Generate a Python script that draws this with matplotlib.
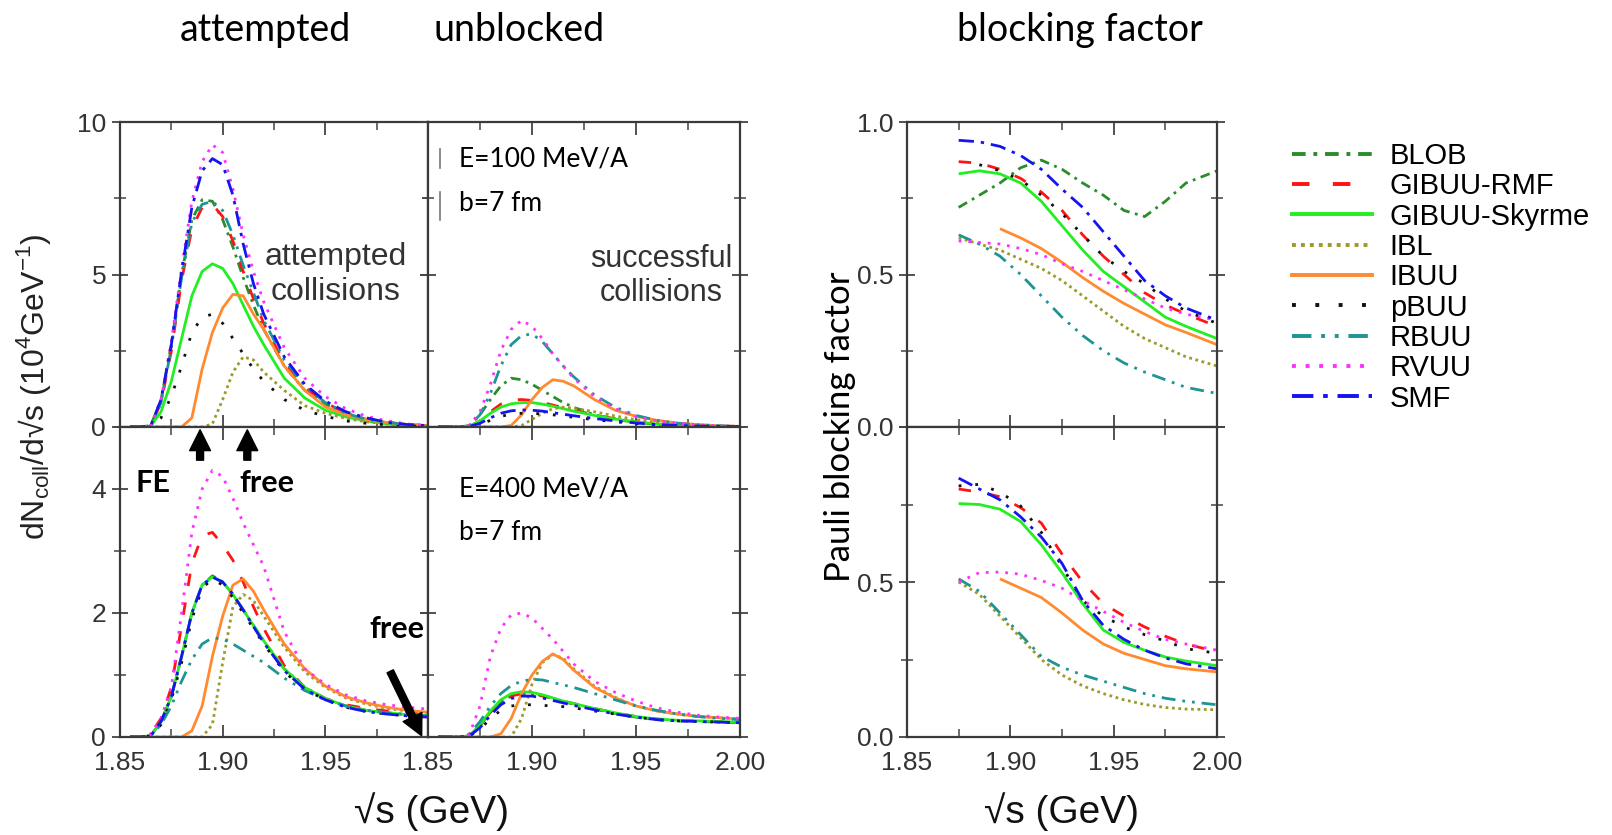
import numpy as np
import matplotlib
matplotlib.use("Agg")
import matplotlib.pyplot as plt
from matplotlib.lines import Line2D
from matplotlib.ticker import MultipleLocator

W, H = 1612, 835
nan = np.nan

models = ["BLOB", "GIBUU-RMF", "GIBUU-Skyrme", "IBL", "IBUU",
          "pBUU", "RBUU", "RVUU", "SMF"]

# sqrt(s) grid of the collision spectra (GeV)
sqrt_s = [1.855, 1.86, 1.865, 1.87, 1.875, 1.88, 1.885, 1.89, 1.895, 1.90, 1.905,
          1.91, 1.915, 1.92, 1.93, 1.94, 1.95, 1.96, 1.97, 1.98, 1.99, 2.00]

# dN/dsqrt(s) (10^4 GeV^-1), E=100 MeV/A, attempted collisions
att100 = {
    "BLOB":         [0, 0, 0.05, 0.9, 2.7, 5.0, 6.8, 7.45, 7.4, 6.8, 5.9, 4.9, 4.0, 3.2, 2.0, 1.2, 0.75, 0.45, 0.25, 0.15, 0.08, 0.04],
    "GIBUU-RMF":    [0, 0, 0.05, 0.8, 2.5, 4.8, 6.5, 7.2, 7.3, 6.9, 6.1, 5.1, 4.2, 3.4, 2.1, 1.3, 0.8, 0.45, 0.25, 0.15, 0.08, 0.04],
    "GIBUU-Skyrme": [0, 0, 0.03, 0.5, 1.5, 2.9, 4.3, 5.1, 5.35, 5.2, 4.7, 4.0, 3.3, 2.7, 1.6, 0.95, 0.55, 0.33, 0.2, 0.1, 0.05, 0.03],
    "IBL":          [0, 0, 0, 0, 0, 0, 0, 0, 0.1, 0.9, 1.8, 2.3, 2.2, 1.8, 1.2, 0.7, 0.45, 0.28, 0.17, 0.1, 0.05, 0.03],
    "IBUU":         [0, 0, 0, 0, 0, 0, 0.3, 1.9, 3.1, 3.9, 4.35, 4.3, 3.7, 3.2, 2.0, 1.2, 0.66, 0.4, 0.25, 0.15, 0.08, 0.05],
    "pBUU":         [0, 0, 0, 0.3, 1.0, 2.0, 3.1, 3.6, 3.7, 3.4, 2.9, 2.4, 1.9, 1.5, 0.9, 0.55, 0.35, 0.2, 0.12, 0.07, 0.04, 0.02],
    "RBUU":         [0, 0, 0.05, 0.8, 2.6, 4.9, 6.7, 7.3, 7.4, 7.1, 6.3, 5.3, 4.4, 3.5, 2.2, 1.35, 0.8, 0.45, 0.25, 0.15, 0.08, 0.04],
    "RVUU":         [0, 0, 0.05, 0.9, 2.8, 5.2, 7.4, 8.7, 9.25, 9.0, 7.8, 6.3, 5.1, 4.1, 2.6, 1.6, 1.0, 0.6, 0.35, 0.2, 0.1, 0.05],
    "SMF":          [0, 0, 0.05, 0.9, 2.7, 5.1, 7.2, 8.4, 8.8, 8.6, 7.6, 6.0, 4.7, 3.7, 2.3, 1.4, 0.85, 0.5, 0.3, 0.15, 0.08, 0.04],
}

# E=100 MeV/A, successful (unblocked) collisions
unb100 = {
    "BLOB":         [0, 0, 0, 0.05, 0.4, 0.9, 1.35, 1.6, 1.55, 1.4, 1.2, 1.0, 0.8, 0.65, 0.4, 0.25, 0.15, 0.09, 0.05, 0.03, 0.02, 0.01],
    "GIBUU-RMF":    [0, 0, 0, 0.02, 0.2, 0.5, 0.75, 0.88, 0.9, 0.87, 0.8, 0.72, 0.63, 0.55, 0.4, 0.27, 0.17, 0.1, 0.06, 0.04, 0.02, 0.01],
    "GIBUU-Skyrme": [0, 0, 0, 0.02, 0.2, 0.45, 0.65, 0.76, 0.8, 0.8, 0.75, 0.68, 0.6, 0.52, 0.38, 0.26, 0.17, 0.1, 0.06, 0.04, 0.02, 0.01],
    "IBL":          [0, 0, 0, 0, 0, 0, 0, 0, 0.05, 0.25, 0.45, 0.6, 0.65, 0.62, 0.5, 0.36, 0.24, 0.15, 0.09, 0.05, 0.03, 0.02],
    "IBUU":         [0, 0, 0, 0, 0, 0, 0, 0.05, 0.4, 0.9, 1.3, 1.55, 1.5, 1.35, 0.9, 0.55, 0.35, 0.22, 0.13, 0.08, 0.04, 0.02],
    "pBUU":         [0, 0, 0, 0, 0.08, 0.22, 0.35, 0.42, 0.45, 0.45, 0.43, 0.4, 0.36, 0.32, 0.24, 0.17, 0.11, 0.07, 0.04, 0.03, 0.02, 0.01],
    "RBUU":         [0, 0, 0, 0.05, 0.4, 1.1, 2.0, 2.7, 3.0, 3.05, 2.8, 2.4, 2.0, 1.65, 1.05, 0.65, 0.38, 0.22, 0.12, 0.07, 0.04, 0.02],
    "RVUU":         [0, 0, 0, 0.05, 0.5, 1.4, 2.5, 3.2, 3.5, 3.3, 2.9, 2.4, 2.0, 1.6, 1.0, 0.6, 0.35, 0.2, 0.12, 0.07, 0.04, 0.02],
    "SMF":          [0, 0, 0, 0.02, 0.12, 0.3, 0.45, 0.53, 0.56, 0.55, 0.52, 0.47, 0.42, 0.37, 0.28, 0.2, 0.13, 0.08, 0.05, 0.03, 0.02, 0.01],
}

# E=400 MeV/A, attempted collisions
att400 = {
    "BLOB":         [0, 0, 0.02, 0.25, 0.65, 1.3, 2.0, 2.45, 2.6, 2.5, 2.3, 2.05, 1.8, 1.55, 1.1, 0.8, 0.62, 0.5, 0.43, 0.39, 0.36, 0.34],
    "GIBUU-RMF":    [0, 0, 0.05, 0.3, 0.8, 1.8, 2.8, 3.25, 3.3, 3.1, 2.85, 2.5, 2.1, 1.75, 1.15, 0.8, 0.62, 0.52, 0.46, 0.42, 0.4, 0.38],
    "GIBUU-Skyrme": [0, 0, 0.02, 0.25, 0.65, 1.3, 2.0, 2.45, 2.58, 2.5, 2.3, 2.05, 1.8, 1.55, 1.1, 0.8, 0.62, 0.5, 0.43, 0.39, 0.36, 0.34],
    "IBL":          [0, 0, 0, 0, 0, 0, 0, 0, 0.2, 1.2, 2.1, 2.3, 2.2, 1.95, 1.45, 1.05, 0.8, 0.63, 0.53, 0.46, 0.42, 0.39],
    "IBUU":         [0, 0, 0, 0, 0, 0, 0.1, 0.5, 1.3, 1.95, 2.45, 2.55, 2.35, 2.05, 1.5, 1.1, 0.82, 0.65, 0.55, 0.48, 0.43, 0.4],
    "pBUU":         [0, 0, 0.02, 0.2, 0.6, 1.2, 1.9, 2.4, 2.55, 2.45, 2.25, 2.0, 1.75, 1.5, 1.05, 0.77, 0.6, 0.48, 0.41, 0.37, 0.34, 0.32],
    "RBUU":         [0, 0, 0.02, 0.2, 0.5, 0.9, 1.25, 1.5, 1.6, 1.58, 1.5, 1.4, 1.3, 1.2, 0.95, 0.75, 0.6, 0.5, 0.43, 0.39, 0.36, 0.34],
    "RVUU":         [0, 0, 0.05, 0.3, 0.8, 2.0, 3.3, 4.0, 4.3, 4.2, 3.85, 3.45, 3.1, 2.75, 1.7, 1.1, 0.85, 0.68, 0.58, 0.52, 0.48, 0.45],
    "SMF":          [0, 0, 0.02, 0.25, 0.65, 1.3, 2.0, 2.45, 2.58, 2.5, 2.3, 2.05, 1.78, 1.52, 1.07, 0.77, 0.6, 0.48, 0.41, 0.37, 0.34, 0.32],
}

# E=400 MeV/A, successful (unblocked) collisions
unb400 = {
    "BLOB":         [0, 0, 0, 0.02, 0.18, 0.4, 0.57, 0.66, 0.7, 0.69, 0.66, 0.62, 0.57, 0.53, 0.45, 0.38, 0.32, 0.28, 0.26, 0.25, 0.24, 0.23],
    "GIBUU-RMF":    [0, 0, 0, 0.02, 0.18, 0.4, 0.57, 0.66, 0.7, 0.7, 0.67, 0.63, 0.58, 0.54, 0.46, 0.39, 0.33, 0.29, 0.27, 0.26, 0.25, 0.24],
    "GIBUU-Skyrme": [0, 0, 0, 0.02, 0.2, 0.42, 0.6, 0.7, 0.73, 0.72, 0.68, 0.63, 0.58, 0.54, 0.46, 0.39, 0.33, 0.29, 0.27, 0.26, 0.25, 0.24],
    "IBL":          [0, 0, 0, 0, 0, 0, 0, 0, 0.3, 0.85, 1.2, 1.33, 1.27, 1.1, 0.82, 0.64, 0.5, 0.42, 0.37, 0.33, 0.31, 0.29],
    "IBUU":         [0, 0, 0, 0, 0, 0, 0.05, 0.3, 0.7, 1.0, 1.22, 1.34, 1.25, 1.08, 0.8, 0.63, 0.5, 0.42, 0.37, 0.33, 0.31, 0.29],
    "pBUU":         [0, 0, 0, 0.02, 0.12, 0.3, 0.43, 0.5, 0.52, 0.52, 0.51, 0.5, 0.49, 0.47, 0.42, 0.37, 0.32, 0.28, 0.26, 0.25, 0.24, 0.23],
    "RBUU":         [0, 0, 0, 0.05, 0.25, 0.5, 0.7, 0.83, 0.9, 0.93, 0.92, 0.88, 0.84, 0.8, 0.7, 0.6, 0.5, 0.43, 0.37, 0.33, 0.3, 0.28],
    "RVUU":         [0, 0, 0, 0.05, 0.5, 1.3, 1.75, 1.97, 2.0, 1.92, 1.75, 1.58, 1.38, 1.18, 0.9, 0.72, 0.58, 0.47, 0.4, 0.35, 0.32, 0.3],
    "SMF":          [0, 0, 0, 0.02, 0.15, 0.35, 0.52, 0.62, 0.66, 0.66, 0.63, 0.59, 0.55, 0.51, 0.44, 0.37, 0.32, 0.28, 0.26, 0.25, 0.24, 0.23],
}

# sqrt(s) grid of the Pauli blocking factor (GeV)
sqrt_s_pb = [1.875, 1.885, 1.895, 1.905, 1.915, 1.925, 1.935, 1.945, 1.955, 1.965, 1.975, 1.985, 2.00]

pb100 = {
    "BLOB":         [0.72, 0.76, 0.80, 0.85, 0.875, 0.845, 0.80, 0.76, 0.71, 0.69, 0.74, 0.80, 0.84],
    "GIBUU-RMF":    [0.87, 0.865, 0.845, 0.815, 0.77, 0.71, 0.63, 0.56, 0.50, 0.44, 0.40, 0.37, 0.33],
    "GIBUU-Skyrme": [0.83, 0.84, 0.83, 0.80, 0.74, 0.66, 0.58, 0.51, 0.46, 0.41, 0.36, 0.33, 0.29],
    "IBL":          [0.62, 0.60, 0.58, 0.55, 0.52, 0.48, 0.43, 0.38, 0.33, 0.29, 0.26, 0.23, 0.20],
    "IBUU":         [nan, nan, 0.65, 0.62, 0.585, 0.54, 0.49, 0.445, 0.405, 0.37, 0.335, 0.31, 0.27],
    "pBUU":         [nan, 0.86, 0.84, 0.81, 0.76, 0.70, 0.63, 0.56, 0.51, 0.47, 0.42, 0.38, 0.34],
    "RBUU":         [0.63, 0.60, 0.56, 0.50, 0.43, 0.36, 0.30, 0.25, 0.21, 0.18, 0.155, 0.13, 0.11],
    "RVUU":         [0.61, 0.605, 0.60, 0.585, 0.565, 0.535, 0.51, 0.48, 0.45, 0.42, 0.39, 0.37, 0.35],
    "SMF":          [0.94, 0.935, 0.92, 0.89, 0.845, 0.78, 0.72, 0.64, 0.56, 0.48, 0.43, 0.39, 0.35],
}

pb400 = {
    "BLOB":         [nan] * 13,
    "GIBUU-RMF":    [0.80, 0.79, 0.775, 0.74, 0.69, 0.59, 0.50, 0.43, 0.39, 0.355, 0.325, 0.30, 0.275],
    "GIBUU-Skyrme": [0.753, 0.75, 0.735, 0.695, 0.62, 0.53, 0.43, 0.345, 0.305, 0.28, 0.258, 0.245, 0.23],
    "IBL":          [0.50, 0.46, 0.39, 0.32, 0.25, 0.20, 0.165, 0.14, 0.12, 0.105, 0.095, 0.09, 0.088],
    "IBUU":         [nan, nan, 0.51, 0.48, 0.45, 0.40, 0.345, 0.30, 0.27, 0.25, 0.23, 0.22, 0.21],
    "pBUU":         [0.81, 0.815, 0.79, 0.745, 0.66, 0.55, 0.44, 0.39, 0.355, 0.33, 0.31, 0.285, 0.27],
    "RBUU":         [0.51, 0.47, 0.40, 0.33, 0.26, 0.225, 0.20, 0.18, 0.16, 0.14, 0.125, 0.115, 0.104],
    "RVUU":         [0.50, 0.53, 0.532, 0.525, 0.505, 0.48, 0.44, 0.405, 0.37, 0.34, 0.315, 0.30, 0.28],
    "SMF":          [0.835, 0.80, 0.765, 0.71, 0.645, 0.56, 0.44, 0.36, 0.315, 0.28, 0.255, 0.236, 0.22],
}

styles = {
    "BLOB":         dict(color="#2a8c2a", ls=(0, (3.5, 2, 1, 2))),
    "GIBUU-RMF":    dict(color="#ff1414", ls=(0, (4.5, 6))),
    "GIBUU-Skyrme": dict(color="#22ee22", ls="-"),
    "IBL":          dict(color="#9c9a2a", ls=(0, (1, 1.3))),
    "IBUU":         dict(color="#ff8a30", ls="-"),
    "pBUU":         dict(color="#111111", ls=(0, (1, 5))),
    "RBUU":         dict(color="#1f9494", ls=(0, (5, 2.5, 1, 2.5, 1, 2.5))),
    "RVUU":         dict(color="#ff30ff", ls=(0, (1, 2.5))),
    "SMF":          dict(color="#1414f0", ls=(0, (5.5, 2.5, 1.2, 2.5))),
}

LW = 2.0
TICK_COLOR = "#333333"
SANS = "Liberation Sans"
TITLE_FONT = "Lato"

plt.rcParams["font.family"] = SANS


def add_ax(fig, x0, x1, y0, y1):
    return fig.add_axes([x0 / W, 1 - y1 / H, (x1 - x0) / W, (y1 - y0) / H])


def style_ax(ax, ylim, ymajor, yminor, ylabels, xlabels):
    ax.set_xlim(1.85, 2.00)
    ax.set_ylim(*ylim)
    ax.xaxis.set_minor_locator(MultipleLocator(0.025))
    ax.yaxis.set_minor_locator(MultipleLocator(yminor))
    ax.set_xticks([1.85, 1.90, 1.95, 2.00])
    ax.set_yticks(ymajor)
    ax.tick_params(axis="x", which="both", direction="in", top=True, bottom=True,
                   labelsize=19, labelcolor=TICK_COLOR, color="#444444", pad=10)
    ax.tick_params(axis="y", which="both", direction="inout", left=True, right=True,
                   labelsize=19, labelcolor=TICK_COLOR, color="#444444", pad=4)
    ax.tick_params(which="major", length=12, width=1.3)
    ax.tick_params(which="minor", length=8, width=1.1)
    ax.tick_params(axis="x", which="major", length=9)
    ax.tick_params(axis="x", which="minor", length=6)
    if ylabels is None:
        ax.set_yticklabels([])
    else:
        ax.set_yticklabels(ylabels)
    if xlabels is None:
        ax.set_xticklabels([])
    else:
        ax.set_xticklabels(xlabels)
    for sp in ax.spines.values():
        sp.set_color("#3a3a3a")
        sp.set_linewidth(1.6)


def draw(ax, xs, data):
    for m in models:
        ax.plot(xs, data[m], lw=LW, color=styles[m]["color"], ls=styles[m]["ls"],
                solid_capstyle="butt", dash_capstyle="butt")


fig = plt.figure(figsize=(W / 100, H / 100), dpi=100)

ax_tl = add_ax(fig, 120, 428, 122, 427)
ax_tm = add_ax(fig, 428, 740, 122, 427)
ax_bl = add_ax(fig, 120, 428, 427, 737)
ax_bm = add_ax(fig, 428, 740, 427, 737)
ax_tr = add_ax(fig, 907, 1217, 122, 427)
ax_br = add_ax(fig, 907, 1217, 427, 737)

draw(ax_tl, sqrt_s, att100)
draw(ax_tm, sqrt_s, unb100)
draw(ax_bl, sqrt_s, att400)
draw(ax_bm, sqrt_s, unb400)
draw(ax_tr, sqrt_s_pb, pb100)
draw(ax_br, sqrt_s_pb, pb400)

style_ax(ax_tl, (0, 10), [0, 5, 10], 2.5, ["0", "5", "10"], None)
style_ax(ax_tm, (0, 10), [0, 5, 10], 2.5, None, None)
style_ax(ax_bl, (0, 5), [0, 2, 4], 1, ["0", "2", "4"], ["1.85", "1.90", "1.95", ""])
style_ax(ax_bm, (0, 5), [0, 2, 4], 1, None, ["1.85", "1.90", "1.95", "2.00"])
style_ax(ax_tr, (0, 1.0), [0, 0.5, 1.0], 0.25, ["0.0", "0.5", "1.0"], None)
style_ax(ax_br, (0, 1.0), [0, 0.5, 1.0], 0.25, ["0.0", "0.5", ""], ["1.85", "1.90", "1.95", "2.00"])

# panel annotations
ax_tl.text(1.955, 5.0, "attempted\ncollisions", ha="center", va="center",
           fontsize=23, color="#333333", linespacing=1.2)
ax_tm.text(1.962, 4.95, "successful\ncollisions", ha="center", va="center",
           fontsize=22, color="#333333", linespacing=1.2)
ax_tm.text(1.865, 8.05, "E=100 MeV/A\nb=7 fm", ha="left", va="center",
           fontsize=19, family=TITLE_FONT, color="black", linespacing=1.95)
ax_bm.text(1.865, 3.65, "E=400 MeV/A\nb=7 fm", ha="left", va="center",
           fontsize=19, family=TITLE_FONT, color="black", linespacing=1.95)
# faint remnants of an old legend beside the E=100 label
for y0, y1 in ((8.5, 9.1), (6.8, 7.7)):
    ax_tm.plot([1.8558, 1.8558], [y0, y1], color="#777777", lw=1.2)

ax_bl.text(1.866, 4.1, "FE", ha="center", va="center", fontsize=22,
           family=TITLE_FONT, weight="bold")
ax_bl.text(1.9216, 4.1, "free", ha="center", va="center", fontsize=22,
           family=TITLE_FONT, weight="bold")
ax_bl.text(1.985, 1.75, "free", ha="center", va="center", fontsize=22,
           family=TITLE_FONT, weight="bold")

arrow = dict(arrowstyle="simple,head_length=0.75,head_width=0.75,tail_width=0.25",
             fc="black", ec="black", mutation_scale=20)
for xa in (1.889, 1.912):
    ax_bl.annotate("", xy=(xa, 5.0), xytext=(xa, 4.42), arrowprops=arrow,
                   annotation_clip=False)
ax_bl.annotate("", xy=(1.9975, -0.02), xytext=(1.981, 1.1), arrowprops=arrow,
               annotation_clip=False)

# titles and axis labels
fig.text(265 / W, 1 - 30 / H, "attempted", ha="center", va="center",
         fontsize=27, family=TITLE_FONT)
fig.text(519 / W, 1 - 30 / H, "unblocked", ha="center", va="center",
         fontsize=27, family=TITLE_FONT)
fig.text(1080 / W, 1 - 30 / H, "blocking factor", ha="center", va="center",
         fontsize=27, family=TITLE_FONT)

fig.text(34 / W, 1 - 387 / H,
         r"dN$_\mathregular{coll}$/d√s (10$^\mathregular{4}$GeV$^\mathregular{-1}$)",
         rotation=90, ha="center", va="center", fontsize=23, color="#222222")
fig.text(840 / W, 1 - 427 / H, "Pauli blocking factor", rotation=90,
         ha="center", va="center", fontsize=25, family=TITLE_FONT)
fig.text(432 / W, 1 - 812 / H, "√s (GeV)", ha="center", va="center",
         fontsize=28, color="#111111")
fig.text(1062 / W, 1 - 812 / H, "√s (GeV)", ha="center", va="center",
         fontsize=28, color="#111111")

handles = [Line2D([0], [0], lw=LW * 1.4, color=styles[m]["color"], ls=styles[m]["ls"])
           for m in models]
fig.legend(handles, models, loc="upper left", bbox_to_anchor=(1292 / W, 1 - 142 / H),
           frameon=False, fontsize=21, handlelength=2.75, handletextpad=0.6,
           labelspacing=0.08, borderpad=0, borderaxespad=0)

fig.savefig("out.png", dpi=100)
